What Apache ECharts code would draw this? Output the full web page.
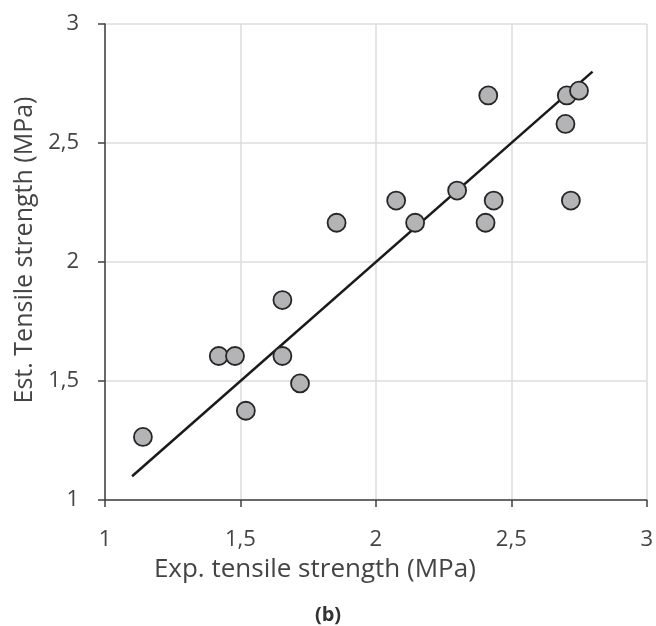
<!DOCTYPE html>
<html lang="en">
<head>
    <meta charset="UTF-8" />
    <title>Tensile strength</title>
    <script src="https://cdn.jsdelivr.net/npm/echarts@6/dist/echarts.min.js"></script>
    <style>
        html, body { margin: 0; padding: 0; background: #fff; }
        #chart { width: 656px; height: 626px; }
    </style>
</head>
<body>
    <div id="chart"></div>
    <script>
        // measured points (exp, est)
        let expValues = [1.14, 1.42, 1.48, 1.52, 1.655, 1.655, 1.72, 1.855, 2.075, 2.145, 2.30, 2.405, 2.435, 2.415, 2.72, 2.70, 2.705, 2.75];
        let estValues = [1.265, 1.605, 1.605, 1.375, 1.84, 1.605, 1.49, 2.165, 2.258, 2.165, 2.30, 2.165, 2.258, 2.70, 2.258, 2.58, 2.70, 2.72];
        // fitted line ends
        let lineX = [1.1, 2.8];
        let lineY = [1.1, 2.8];

        let points = expValues.map((x, i) => [x, estValues[i]]);
        let linePts = lineX.map((x, i) => [x, lineY[i]]);

        let font = "'Open Sans', 'Liberation Sans', sans-serif";
        let textColor = "#444";

        let chart = echarts.init(document.getElementById("chart"));

        let option = {
            animation: false,
            graphic: [
                {
                    type: "text",
                    x: 328,
                    y: 615,
                    style: {
                        text: "(b)",
                        textAlign: "center",
                        textVerticalAlign: "middle",
                        font: "bold 20px " + font,
                        fill: "#333",
                    },
                },
            ],
            grid: { left: 105, right: 8, top: 24, bottom: 126 },
            xAxis: {
                type: "value",
                min: 1, max: 3, interval: 0.5,
                name: "Exp. tensile strength (MPa)",
                nameLocation: "middle",
                nameGap: 57,
                // title sits left of the axis centre in the original
                nameTextStyle: { fontFamily: font, fontSize: 26, color: textColor, padding: [0, 122, 0, 0] },
                axisLine: { lineStyle: { color: "#404040", width: 1.5 } },
                axisTick: { show: true, length: 7, lineStyle: { color: "#404040", width: 1.5 } },
                axisLabel: {
                    fontFamily: font, fontSize: 22, color: textColor, margin: 29,
                    formatter: v => String(v).replace(".", ","),
                },
                splitLine: { show: true, lineStyle: { color: "#dcdcdc", width: 1.5 } },
            },
            yAxis: {
                type: "value",
                min: 1, max: 3, interval: 0.5,
                name: "Est. Tensile strength (MPa)",
                nameLocation: "middle",
                nameGap: 64,
                nameTextStyle: { fontFamily: font, fontSize: 25, color: textColor, padding: [0, 0, 0, 24] },
                axisLine: { show: true, lineStyle: { color: "#404040", width: 1.5 } },
                axisTick: { show: true, length: 7, lineStyle: { color: "#404040", width: 1.5 } },
                axisLabel: {
                    fontFamily: font, fontSize: 22, color: textColor, margin: 26,
                    formatter: v => String(v).replace(".", ","),
                },
                splitLine: { show: true, lineStyle: { color: "#dcdcdc", width: 1.5 } },
            },
            series: [
                {
                    type: "line",
                    data: linePts,
                    symbol: "none",
                    lineStyle: { color: "#1a1a1a", width: 2.5 },
                    z: 2,
                },
                {
                    type: "scatter",
                    data: points,
                    symbol: "circle",
                    symbolSize: 18,
                    itemStyle: { color: "#b4b4b6", borderColor: "#262626", borderWidth: 1.8, opacity: 1 },
                    z: 3,
                },
            ],
        };

        chart.setOption(option);
    </script>
</body>
</html>
